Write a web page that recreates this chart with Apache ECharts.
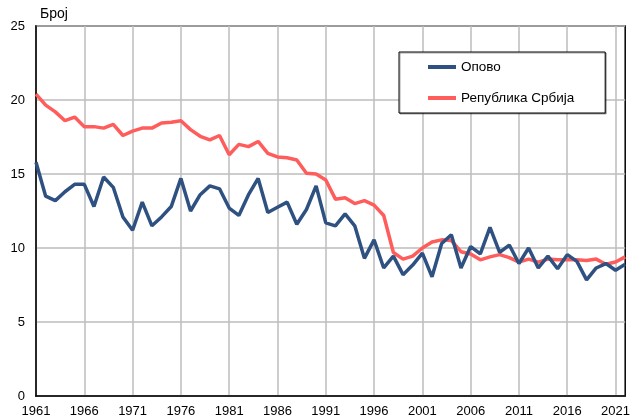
<!DOCTYPE html>
<html>
<head>
<meta charset="utf-8">
<script src="https://cdn.jsdelivr.net/npm/echarts@6/dist/echarts.min.js"></script>
<style>
  html, body { margin: 0; padding: 0; background: #fff; }
  #main { width: 633px; height: 419px; }
</style>
</head>
<body>
<div id="main"></div>
<script>
// godine 1961 - 2022
var years = []
for (var y = 1961; y <= 2022; y++) {
  years.push(String(y))
}

var opovo = [
  15.8, 13.5, 13.2, 13.8, 14.3, 14.3, 12.8, 14.8, 14.1, 12.1,
  11.2, 13.1, 11.5, 12.1, 12.8, 14.7, 12.5, 13.6, 14.2, 14.0,
  12.7, 12.2, 13.6, 14.7, 12.4, 12.75, 13.1, 11.6, 12.6, 14.2,
  11.7, 11.5, 12.3, 11.5, 9.3, 10.55, 8.65, 9.45, 8.2, 8.85,
  9.65, 8.05, 10.3, 10.9, 8.65, 10.1, 9.6, 11.4, 9.7, 10.2,
  8.95, 10.0, 8.65, 9.45, 8.6, 9.55, 9.1, 7.85, 8.65, 8.95,
  8.5, 8.9
]

var srbija = [
  20.4, 19.65, 19.2, 18.6, 18.85, 18.2, 18.2, 18.1, 18.35, 17.6,
  17.9, 18.1, 18.1, 18.45, 18.5, 18.6, 18.0, 17.55, 17.3, 17.6,
  16.3, 17.0, 16.85, 17.2, 16.4, 16.15, 16.1, 15.95, 15.05, 15.0,
  14.6, 13.3, 13.4, 13.0, 13.2, 12.9, 12.2, 9.7, 9.25, 9.45,
  10.0, 10.4, 10.55, 10.5, 9.75, 9.6, 9.2, 9.4, 9.55, 9.35,
  9.05, 9.25, 9.05, 9.25, 9.2, 9.2, 9.2, 9.15, 9.25, 8.9,
  9.05, 9.4
]

var yTicks = [0, 5, 10, 15, 20, 25]

var chart = echarts.init(document.getElementById('main'), null, { renderer: 'canvas' })
var font = "'Liberation Sans', Arial, sans-serif"

chart.setOption({
  animation: false,
  backgroundColor: '#fff',
  textStyle: { fontFamily: font },
  title: {
    text: 'Број',
    left: 35,
    top: 2,
    textStyle: { fontFamily: font, fontSize: 14, fontWeight: 'normal', color: '#000' }
  },
  grid: {
    left: 36,
    right: 7,
    top: 26,
    bottom: 23,
    show: true,
    borderColor: '#000',
    borderWidth: 1.5
  },
  legend: {
    orient: 'vertical',
    left: 399,
    top: 52,
    padding: [7, 31, 7, 29],
    itemGap: 15,
    itemWidth: 28,
    itemHeight: 4,
    icon: 'rect',
    backgroundColor: '#fff',
    borderColor: '#000',
    borderWidth: 1,
    shadowColor: 'rgba(0,0,0,0.35)',
    shadowOffsetX: 1,
    shadowOffsetY: 1,
    textStyle: { fontFamily: font, fontSize: 13.5, lineHeight: 16, color: '#000' },
    data: ['Опово', 'Република Србија']
  },
  xAxis: {
    type: 'category',
    data: years,
    boundaryGap: false,
    axisLine: { lineStyle: { color: '#000', width: 1.5 } },
    axisTick: { show: false },
    axisLabel: {
      interval: 4,
      margin: 9,
      color: '#000',
      fontSize: 13,
      fontFamily: font
    },
    splitLine: {
      show: true,
      interval: 4,
      lineStyle: { color: '#bdbdbd', width: 1.5 }
    }
  },
  yAxis: {
    type: 'value',
    min: yTicks[0],
    max: yTicks[yTicks.length - 1],
    interval: 5,
    axisLine: { show: true, lineStyle: { color: '#000', width: 1.5 } },
    axisTick: { show: false },
    axisLabel: { color: '#000', fontSize: 13, margin: 11, fontFamily: font },
    splitLine: { lineStyle: { color: '#bdbdbd', width: 1.5 } }
  },
  series: [
    {
      name: 'Опово',
      type: 'line',
      data: opovo,
      symbol: 'none',
      color: '#2e5182',
      lineStyle: { width: 3.5, color: '#2e5182' },
      z: 3
    },
    {
      name: 'Република Србија',
      type: 'line',
      data: srbija,
      symbol: 'none',
      color: '#ff5c5c',
      lineStyle: { width: 3.5, color: '#ff5c5c' },
      z: 2
    }
  ]
})
</script>
</body>
</html>
